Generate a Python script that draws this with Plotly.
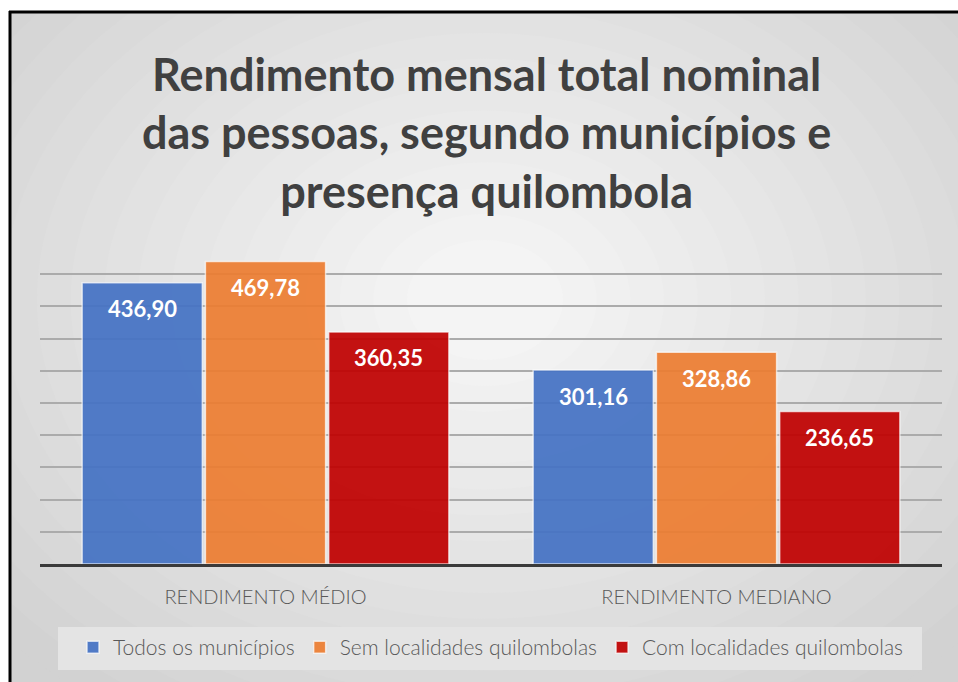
import plotly.graph_objects as go

# ── Dados ──────────────────────────────────────────────────────────────────────
categorias = ["RENDIMENTO MÉDIO", "RENDIMENTO MEDIANO"]
series = ["Todos os municípios", "Sem localidades quilombolas", "Com localidades quilombolas"]
todos = [436.90, 301.16]
sem_quilombolas = [469.78, 328.86]
com_quilombolas = [360.35, 236.65]
cores = ["#4472C4", "#ED7D31", "#C00000"]

FONTE = "Lato"
W, H = 958, 682
ML, MR, MT, MB = 40, 16, 242, 118
PW, PH = W - ML - MR, H - MT - MB


def px2x(px):
    return (px - ML) / PW


def py2y(py):
    return (H - MB - py) / PH


def fmt(v):
    return f"{v:.2f}".replace(".", ",")


fig = go.Figure()
for nome, vals, cor in zip(series, [todos, sem_quilombolas, com_quilombolas], cores):
    fig.add_trace(go.Bar(
        name=nome, x=categorias, y=vals,
        marker=dict(color=cor, line=dict(color="rgba(255,255,255,0.7)", width=1.5)),
        opacity=0.92,
    ))

# rótulos de dados (dentro da barra, perto do topo)
annotations = []
for i, vals in enumerate([todos, sem_quilombolas, com_quilombolas]):
    for cat, v in zip(categorias, vals):
        annotations.append(dict(
            x=cat, y=v, xref="x", yref="y", text=f"<b>{fmt(v)}</b>",
            showarrow=False, xshift=(i - 1) * 123, yshift=-26,
            font=dict(family=FONTE, size=22, color="white"),
        ))

# ── Fundo: gradiente radial aproximado com elipses ────────────────────────────
shapes = []
shapes.append(dict(
    type="rect", xref="paper", yref="paper", layer="below",
    x0=px2x(10), x1=px2x(W + 5), y0=py2y(H + 5), y1=py2y(12),
    fillcolor="rgb(210,210,210)", line=dict(width=0),
))
n = 18
c_borda, c_centro = 0xD2, 0xF4
cx, cy = 485, 300
for k in range(n):
    s = 1.25 - k * (1.1 / (n - 1))
    g = int(c_borda + (c_centro - c_borda) * k / (n - 1))
    rx, ry = s * 520, s * 400
    shapes.append(dict(
        type="circle", xref="paper", yref="paper", layer="below",
        x0=px2x(cx - rx), x1=px2x(cx + rx), y0=py2y(cy + ry), y1=py2y(cy - ry),
        fillcolor=f"rgb({g},{g},{g})", line=dict(width=0),
    ))
# margens brancas fora da moldura
shapes.append(dict(type="rect", xref="paper", yref="paper", layer="below",
                   x0=px2x(-20), x1=px2x(W + 20), y0=py2y(12), y1=py2y(-20),
                   fillcolor="white", line=dict(width=0)))
shapes.append(dict(type="rect", xref="paper", yref="paper", layer="below",
                   x0=px2x(-20), x1=px2x(10), y0=py2y(H + 20), y1=py2y(-20),
                   fillcolor="white", line=dict(width=0)))
# caixa clara da legenda
shapes.append(dict(type="rect", xref="paper", yref="paper", layer="below",
                   x0=px2x(58), x1=px2x(922), y0=py2y(670), y1=py2y(627),
                   fillcolor="#E4E4E4", line=dict(width=0)))
# moldura preta (esquerda e topo)
shapes.append(dict(type="line", xref="paper", yref="paper", layer="above",
                   x0=px2x(10), x1=px2x(10), y0=py2y(H + 20), y1=py2y(11),
                   line=dict(color="black", width=3)))
shapes.append(dict(type="line", xref="paper", yref="paper", layer="above",
                   x0=px2x(9), x1=px2x(W + 20), y0=py2y(12), y1=py2y(12),
                   line=dict(color="black", width=3)))

fig.update_layout(
    width=W, height=H,
    margin=dict(l=ML, r=MR, t=MT, b=MB),
    paper_bgcolor="white", plot_bgcolor="rgba(0,0,0,0)",
    barmode="group", bargap=0.18, bargroupgap=0.025,
    title=dict(
        text="<b>Rendimento mensal total nominal<br>das pessoas, segundo municípios e<br>presença quilombola</b>",
        x=0.508, xanchor="center", y=0.867, yanchor="top",
        font=dict(family=FONTE, size=45, color="#404040"),
    ),
    xaxis=dict(
        showline=True, linecolor="#3A3A3A", linewidth=3,
        ticks="outside", ticklen=13, tickcolor="rgba(0,0,0,0)",
        tickfont=dict(family=FONTE, size=20, color="#595959", weight=300),
        showgrid=False,
    ),
    yaxis=dict(
        range=[0, 500], dtick=50, showticklabels=False,
        showgrid=True, gridcolor="#ABABAB", gridwidth=1.5,
        zeroline=False,
    ),
    legend=dict(
        orientation="h", x=0.5, xanchor="center", y=py2y(627), yanchor="top",
        bgcolor="rgba(0,0,0,0)",
        font=dict(family=FONTE, size=21, color="#595959", weight=300),
        itemwidth=30,
    ),
    shapes=shapes,
    annotations=annotations,
)

# sem margem no body, para a figura ocupar a janela inteira
fig.write_html(
    "out.html",
    config={"displayModeBar": False},
    post_script="document.body.style.margin='0';document.body.style.overflow='hidden';",
)
